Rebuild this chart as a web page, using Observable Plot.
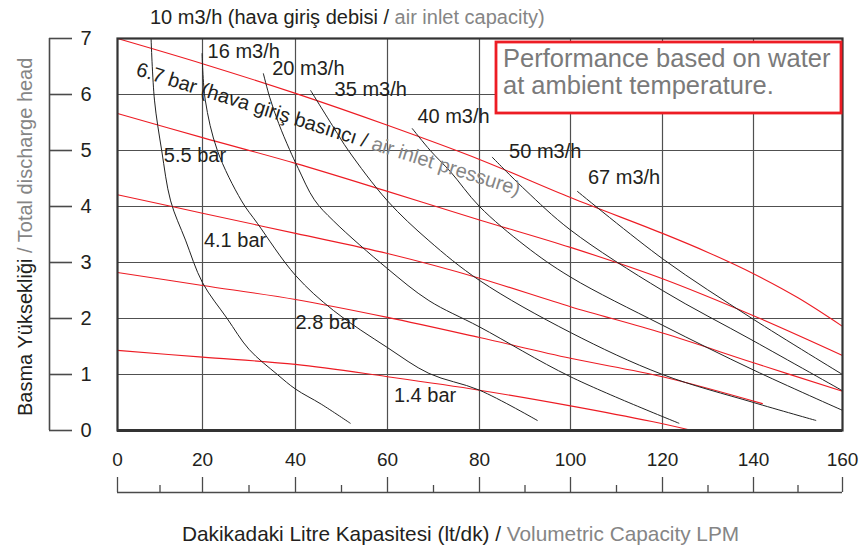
<!DOCTYPE html>
<html>
<head>
<meta charset="utf-8">
<script src="https://cdn.jsdelivr.net/npm/d3@7"></script>
<script src="https://cdn.jsdelivr.net/npm/@observablehq/plot@0.6"></script>
<style>
  html, body { margin: 0; padding: 0; background: #fff; }
  #chart { position: relative; width: 862px; height: 547px; }
  svg text { white-space: pre; }
</style>
</head>
<body>
<div id="chart"></div>
<script>
// ---------- axis ticks ----------
const xTicks = [0, 20, 40, 60, 80, 100, 120, 140, 160];
const xMinorTicks = [10, 30, 50, 70, 90, 110, 130, 150];
const yTicks = [0, 1, 2, 3, 4, 5, 6, 7];

// ---------- air inlet pressure curves (red) : [LPM, head] ----------
const pressureNames = ["6.7 bar", "5.5 bar", "4.1 bar", "2.8 bar", "1.4 bar"];
const p67 = [[0,7.0],[20,6.55],[40,6.02],[60,5.45],[80,4.84],[100,4.16],[120,3.52],[130,3.18],[140,2.80],[150,2.37],[160,1.86]];
const p55 = [[0,5.66],[20,5.23],[40,4.77],[60,4.27],[80,3.76],[100,3.27],[120,2.71],[140,2.05],[160,1.34]];
const p41 = [[0,4.21],[20,3.88],[40,3.52],[60,3.16],[80,2.72],[100,2.21],[120,1.74],[140,1.21],[160,0.70]];
const p28 = [[0,2.82],[20,2.59],[40,2.34],[60,2.02],[80,1.66],[100,1.29],[120,0.96],[142,0.48]];
const p14 = [[0,1.43],[20,1.31],[40,1.18],[60,0.96],[80,0.72],[100,0.44],[117.7,0.16],[126.5,0]];

// ---------- air inlet capacity curves (black) : [LPM, head] ----------
const flowNames = ["10 m3/h", "16 m3/h", "20 m3/h", "35 m3/h", "40 m3/h", "50 m3/h", "67 m3/h"];
const f10 = [[7.9,7.0],[8.7,5.9],[10.4,5.0],[12.5,4.1],[16,3.4],[20,2.64],[25.3,2.0],[30,1.45],[36.1,1.0],[40,0.74],[45.6,0.47],[51.9,0.13]];
const f16 = [[19.9,6.73],[20.6,5.9],[23.2,5.0],[28.4,4.1],[31.8,3.7],[40,2.77],[48.3,2.14],[60,1.48],[69,1.02],[80,0.72],[92.7,0.18]];
const f20 = [[33.1,6.37],[34.45,5.95],[36.4,5.48],[38.7,5.02],[40.6,4.68],[44.1,4.12],[48.3,3.74],[60,2.89],[69,2.32],[80,1.85],[100,0.96],[123.6,0.13]];
const f35 = [[43.3,6.07],[48.3,5.41],[51.5,5.0],[60,4.1],[69,3.39],[80,2.68],[100,1.75],[120,1.0],[140,0.5],[154,0.18]];
const f40 = [[65.4,5.39],[69.3,5.0],[73.7,4.62],[80,4.0],[90,3.3],[100,2.74],[120,1.88],[140,1.08],[160,0.36]];
const f50 = [[82.8,4.88],[90,4.3],[100,3.58],[120,2.5],[140,1.6],[160,0.71]];
const f67 = [[101.5,4.27],[120.3,3.05],[139.7,2.0],[160,1.0]];

// ---------- label texts ----------
const flowLabelTexts = ["16 m3/h", "20 m3/h", "35 m3/h", "40 m3/h", "50 m3/h", "67 m3/h"];
const barLabelTexts = ["5.5 bar", "4.1 bar", "2.8 bar", "1.4 bar"];
const titleTop = ["10 m3/h (hava giriş debisi / ", "air inlet capacity)"];
const titlePressure = ["6.7 bar (hava giriş basıncı / ", "air inlet pressure)"];
const titleY = ["Basma Yüksekliği ", "/ Total discharge head"];
const titleX = ["Dakikadaki Litre Kapasitesi (lt/dk) / ", "Volumetric Capacity LPM"];
const noteLines = ["Performance based on water", "at ambient temperature."];

// ---------- label anchors (data units, baseline-left) ----------
const flowLabelPos = [[21.1,6.66],[35.0,6.34],[48.5,5.98],[66.5,5.5],[86.5,4.87],[103.8,4.4]];
const barLabelPos = [[10.9,4.79],[20.3,3.27],[40,1.815],[61.4,0.505]];
const pressureLabelPos = [4.24, 6.34];

const FONT = '"Liberation Sans", Arial, Helvetica, sans-serif';
const INK = "#231f20";
const GRAY = "#858585";
const RED = "#ed1c24";
const GRID = "#505050";
const AX = "#4a4a4a";

// the printed grid is slightly uneven: warp LPM onto the printed gridline spacing
const warp = d3.scaleLinear().domain(xTicks).range([117, 202, 295, 387, 479, 570, 662, 753, 842]);

const pressureRows = [p67, p55, p41, p28, p14].flatMap((s, i) => s.map(([x, y]) => ({x, y, series: pressureNames[i]})));
const flowRows = [f10, f16, f20, f35, f40, f50, f67].flatMap((s, i) => s.map(([x, y]) => ({x, y, series: flowNames[i]})));
const flowLabels = flowLabelTexts.map((t, i) => ({text: t, x: flowLabelPos[i][0], y: flowLabelPos[i][1]}));
const barLabels = barLabelTexts.map((t, i) => ({text: t, x: barLabelPos[i][0], y: barLabelPos[i][1]}));

const chart = Plot.plot({
  width: 862,
  height: 547,
  marginLeft: 117,
  marginRight: 20,
  marginTop: 38,
  marginBottom: 117,
  style: {fontFamily: FONT, background: "#fff", color: INK, overflow: "visible"},
  x: {transform: warp, domain: [warp(xTicks[0]), warp(xTicks[xTicks.length - 1])]},
  y: {domain: [yTicks[0], yTicks[yTicks.length - 1]]},
  marks: [
    Plot.ruleX(xTicks.slice(1, -1), {y1: yTicks[0], y2: yTicks[yTicks.length - 1], stroke: GRID, strokeWidth: 1.2}),
    Plot.ruleY(yTicks.slice(1, -1), {x1: xTicks[0], x2: xTicks[xTicks.length - 1], stroke: GRID, strokeWidth: 1.2}),
    Plot.line(pressureRows, {x: "x", y: "y", z: "series", stroke: RED, strokeWidth: 1.1, curve: "catmull-rom"}),
    Plot.line(flowRows, {x: "x", y: "y", z: "series", stroke: "#222", strokeWidth: 1, curve: "catmull-rom"}),
    Plot.frame({stroke: "#333", strokeWidth: 2.2}),
    Plot.ruleY([yTicks[0]], {x1: xTicks[0], x2: xTicks[xTicks.length - 1], stroke: "#333", strokeWidth: 3}),
    // left axis (bracket style)
    Plot.ruleX([xTicks[0]], {y1: yTicks[0], y2: yTicks[yTicks.length - 1], dx: -68, stroke: AX, strokeWidth: 1.6}),
    Plot.axisY(yTicks, {tickSize: 23, dx: -45, fill: "none", stroke: AX, strokeWidth: 1.6, label: null}),
    Plot.axisY(yTicks, {tickSize: 0, tickPadding: 37, textAnchor: "start", fontSize: 20, fill: INK, label: null, tickFormat: d => String(d)}),
    // bottom axis (separate scale bar)
    Plot.ruleY([yTicks[0]], {x1: xTicks[0], x2: xTicks[xTicks.length - 1], dy: 62, stroke: AX, strokeWidth: 1.3}),
    Plot.axisX(xTicks, {tickSize: 15, dy: 47, fill: "none", stroke: AX, strokeWidth: 1.3, label: null}),
    Plot.axisX(xMinorTicks, {tickSize: 7, dy: 55, fill: "none", stroke: AX, strokeWidth: 1.3, label: null}),
    Plot.axisX(xTicks, {tickSize: 0, tickPadding: 22, fontSize: 19, fill: INK, label: null, tickFormat: d => String(d)}),
    // curve labels
    Plot.text(flowLabels, {x: "x", y: "y", text: "text", textAnchor: "start", lineAnchor: "bottom", fontSize: 20, fill: INK}),
    Plot.text(barLabels, {x: "x", y: "y", text: "text", textAnchor: "start", lineAnchor: "bottom", fontSize: 20, fill: INK})
  ]
});

document.getElementById("chart").appendChild(chart);

// ---------- mixed-colour titles and note ----------
const svg = d3.select(chart);
const sy = chart.scale("y");

function twoTone(parts, attrs, size) {
  const t = svg.append("text")
    .attr("font-family", FONT)
    .attr("font-size", size)
    .attr("text-anchor", "start");
  Object.entries(attrs).forEach(([k, v]) => t.attr(k, v));
  t.append("tspan").attr("fill", INK).text(parts[0]);
  t.append("tspan").attr("fill", GRAY).text(parts[1]);
  return t;
}

twoTone(titleTop, {x: 150, y: 24}, 20);
twoTone(titlePressure, {
  transform: `translate(${warp(pressureLabelPos[0])},${sy.apply(pressureLabelPos[1])}) rotate(17.5)`
}, 20);
twoTone(titleY, {transform: "translate(31.5,416) rotate(-90)"}, 20);
twoTone(titleX, {x: 182, y: 541}, 20.8);

svg.append("rect")
  .attr("x", 496).attr("y", 42).attr("width", 345).attr("height", 71)
  .attr("fill", "#fff").attr("stroke", RED).attr("stroke-width", 2.8);
noteLines.forEach((line, i) => {
  svg.append("text")
    .attr("x", 503).attr("y", 67 + i * 26.5)
    .attr("font-family", FONT).attr("font-size", 25.5)
    .attr("text-anchor", "start")
    .attr("fill", "#7a7a7a")
    .text(line);
});
</script>
</body>
</html>
